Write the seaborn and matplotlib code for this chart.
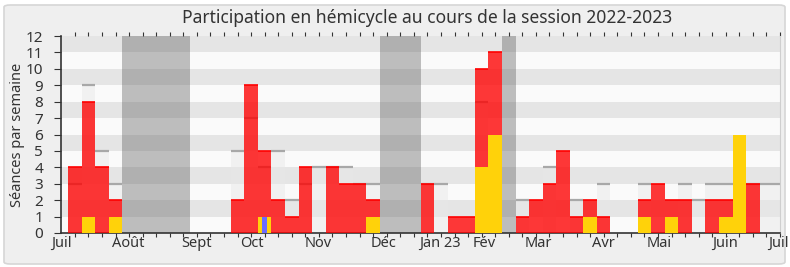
import matplotlib
matplotlib.use("Agg")
import matplotlib.pyplot as plt
from matplotlib.patches import FancyBboxPatch
import seaborn as sns
import numpy as np
import pandas as pd

# ---- data (one entry per week, from early July 2022 to end of June 2023) ----
weeks = list(range(53))
seances_total = [3, 9, 5, 3, 0, 0, 0, 0, 0, 0, 0, 0, 5, 7, 4, 5, 2, 3, 4, 4,
                 4, 3, 3, 0, 0, 0, 3, 3, 0, 0, 8, 0, 0, 2, 0, 4, 0, 2, 0, 3,
                 0, 0, 3, 0, 0, 3, 2, 3, 3, 0, 3, 3, 3]
presences = [4, 8, 4, 2, 0, 0, 0, 0, 0, 0, 0, 0, 2, 9, 5, 2, 1, 4, 0, 4,
             3, 3, 2, 0, 0, 0, 3, 0, 1, 1, 10, 11, 0, 1, 2, 3, 5, 1, 2, 1,
             0, 0, 2, 3, 2, 2, 0, 2, 2, 0, 3, 0, 0]
interventions = [0, 1, 0, 1, 0, 0, 0, 0, 0, 0, 0, 0, 0, 0, 1, 0, 0, 0, 0, 0,
                 0, 0, 1, 0, 0, 0, 0, 0, 0, 0, 4, 6, 0, 0, 0, 0, 0, 0, 1, 0,
                 0, 0, 1, 0, 1, 0, 0, 0, 1, 6, 0, 0, 0]
questions = [0] * 14 + [1] + [0] * 38
vacances = [4, 5, 6, 7, 8, 23, 24, 25, 32]

month_labels = ["Juil", "Août", "Sept", "Oct", "Nov", "Déc", "Jan 23", "Fév",
                "Mar", "Avr", "Mai", "Juin", "Juil"]
month_pos = [-1.02, 3.92, 8.98, 13.07, 17.94, 22.73, 26.93, 30.18, 34.16,
             38.95, 43.08, 47.95, 51.86]

df = pd.DataFrame({"semaine": weeks, "total": seances_total, "presence": presences,
                   "interv": interventions, "questions": questions})

plt.rcParams["font.family"] = ["Noto Sans", "DejaVu Sans"]

W, H = 790, 267
fig = plt.figure(figsize=(W / 100, H / 100), dpi=100, facecolor="white")
frame = FancyBboxPatch((4 / W, 3 / H), 781 / W, 259 / H,
                       boxstyle="round,pad=0,rounding_size=0.008",
                       transform=fig.transFigure, facecolor="#efefef",
                       edgecolor="#d6d6d6", linewidth=1.2, zorder=-10)
fig.patches.append(frame)

ax = fig.add_axes([61 / W, 34 / H, 719 / W, 197 / H])
ax.set_zorder(1)
ax.set_facecolor("#fafafa")

# horizontal stripes
for k in range(1, 12, 2):
    ax.axhspan(k, k + 1, color="#e5e5e5", lw=0, zorder=0.5)

# holiday weeks
for v in vacances:
    ax.axvspan(v - 0.5, v + 0.5, color="#5a5a5a", alpha=0.38, lw=0, zorder=1)

order = weeks
sns.barplot(data=df, x="semaine", y="total", order=order, color="#e8e8e8",
            alpha=0.45, width=1, saturation=1, errorbar=None, ax=ax,
            linewidth=0, zorder=2)
tot = np.array(seances_total, dtype=float)
idx = np.array(weeks, dtype=float)
m = tot > 0
ax.hlines(tot[m], idx[m] - 0.5, idx[m] + 0.5, color="#a8a8a8", lw=1.6, zorder=2.5)

sns.barplot(data=df, x="semaine", y="presence", order=order, color="#ff0000",
            alpha=0.78, width=1, saturation=1, errorbar=None, ax=ax,
            linewidth=0, zorder=3)
pr = np.array(presences, dtype=float)
m = pr > 0
ax.hlines(pr[m], idx[m] - 0.5, idx[m] + 0.5, color="#ff0000", lw=1.2, zorder=3.2)

sns.barplot(data=df, x="semaine", y="interv", order=order, color="#ffd20a",
            width=1, saturation=1, errorbar=None, ax=ax, linewidth=0, zorder=4)
sns.barplot(data=df, x="semaine", y="questions", order=order, color="#6b6bff",
            width=0.35, saturation=1, errorbar=None, ax=ax, linewidth=0, zorder=5)

ax.set_xlim(-1, 52)
ax.set_ylim(0, 12)
ax.set_yticks(range(0, 13))
ax.set_xticks(month_pos)
ax.set_xticklabels(month_labels)
ax.set_xticks(weeks, minor=True)
ax.tick_params(axis="x", which="major", length=0, pad=2, labelsize=10.5, colors="#333333")
ax.tick_params(axis="x", which="minor", length=3, width=0.8, color="#333333",
               top=True, bottom=True, direction="out")
ax.tick_params(axis="y", length=5, width=0.8, labelsize=11, colors="#333333", pad=8)
ax.set_xlabel("")
ax.set_ylabel("Séances par semaine", fontsize=10.5, color="#333333", labelpad=0)
ax.spines["top"].set_visible(False)
ax.spines["right"].set_color("#cfcfcf")
ax.spines["left"].set_color("#333333")
ax.spines["bottom"].set_color("#333333")
ax.spines["left"].set_linewidth(1.2)
ax.spines["bottom"].set_linewidth(1.2)

fig.text(427 / W, 1 - 18 / H,
         "Participation en hémicycle au cours de la session 2022-2023",
         ha="center", va="center", fontsize=12.6, color="#333333")

fig.savefig("out.png", dpi=100, facecolor="white")
